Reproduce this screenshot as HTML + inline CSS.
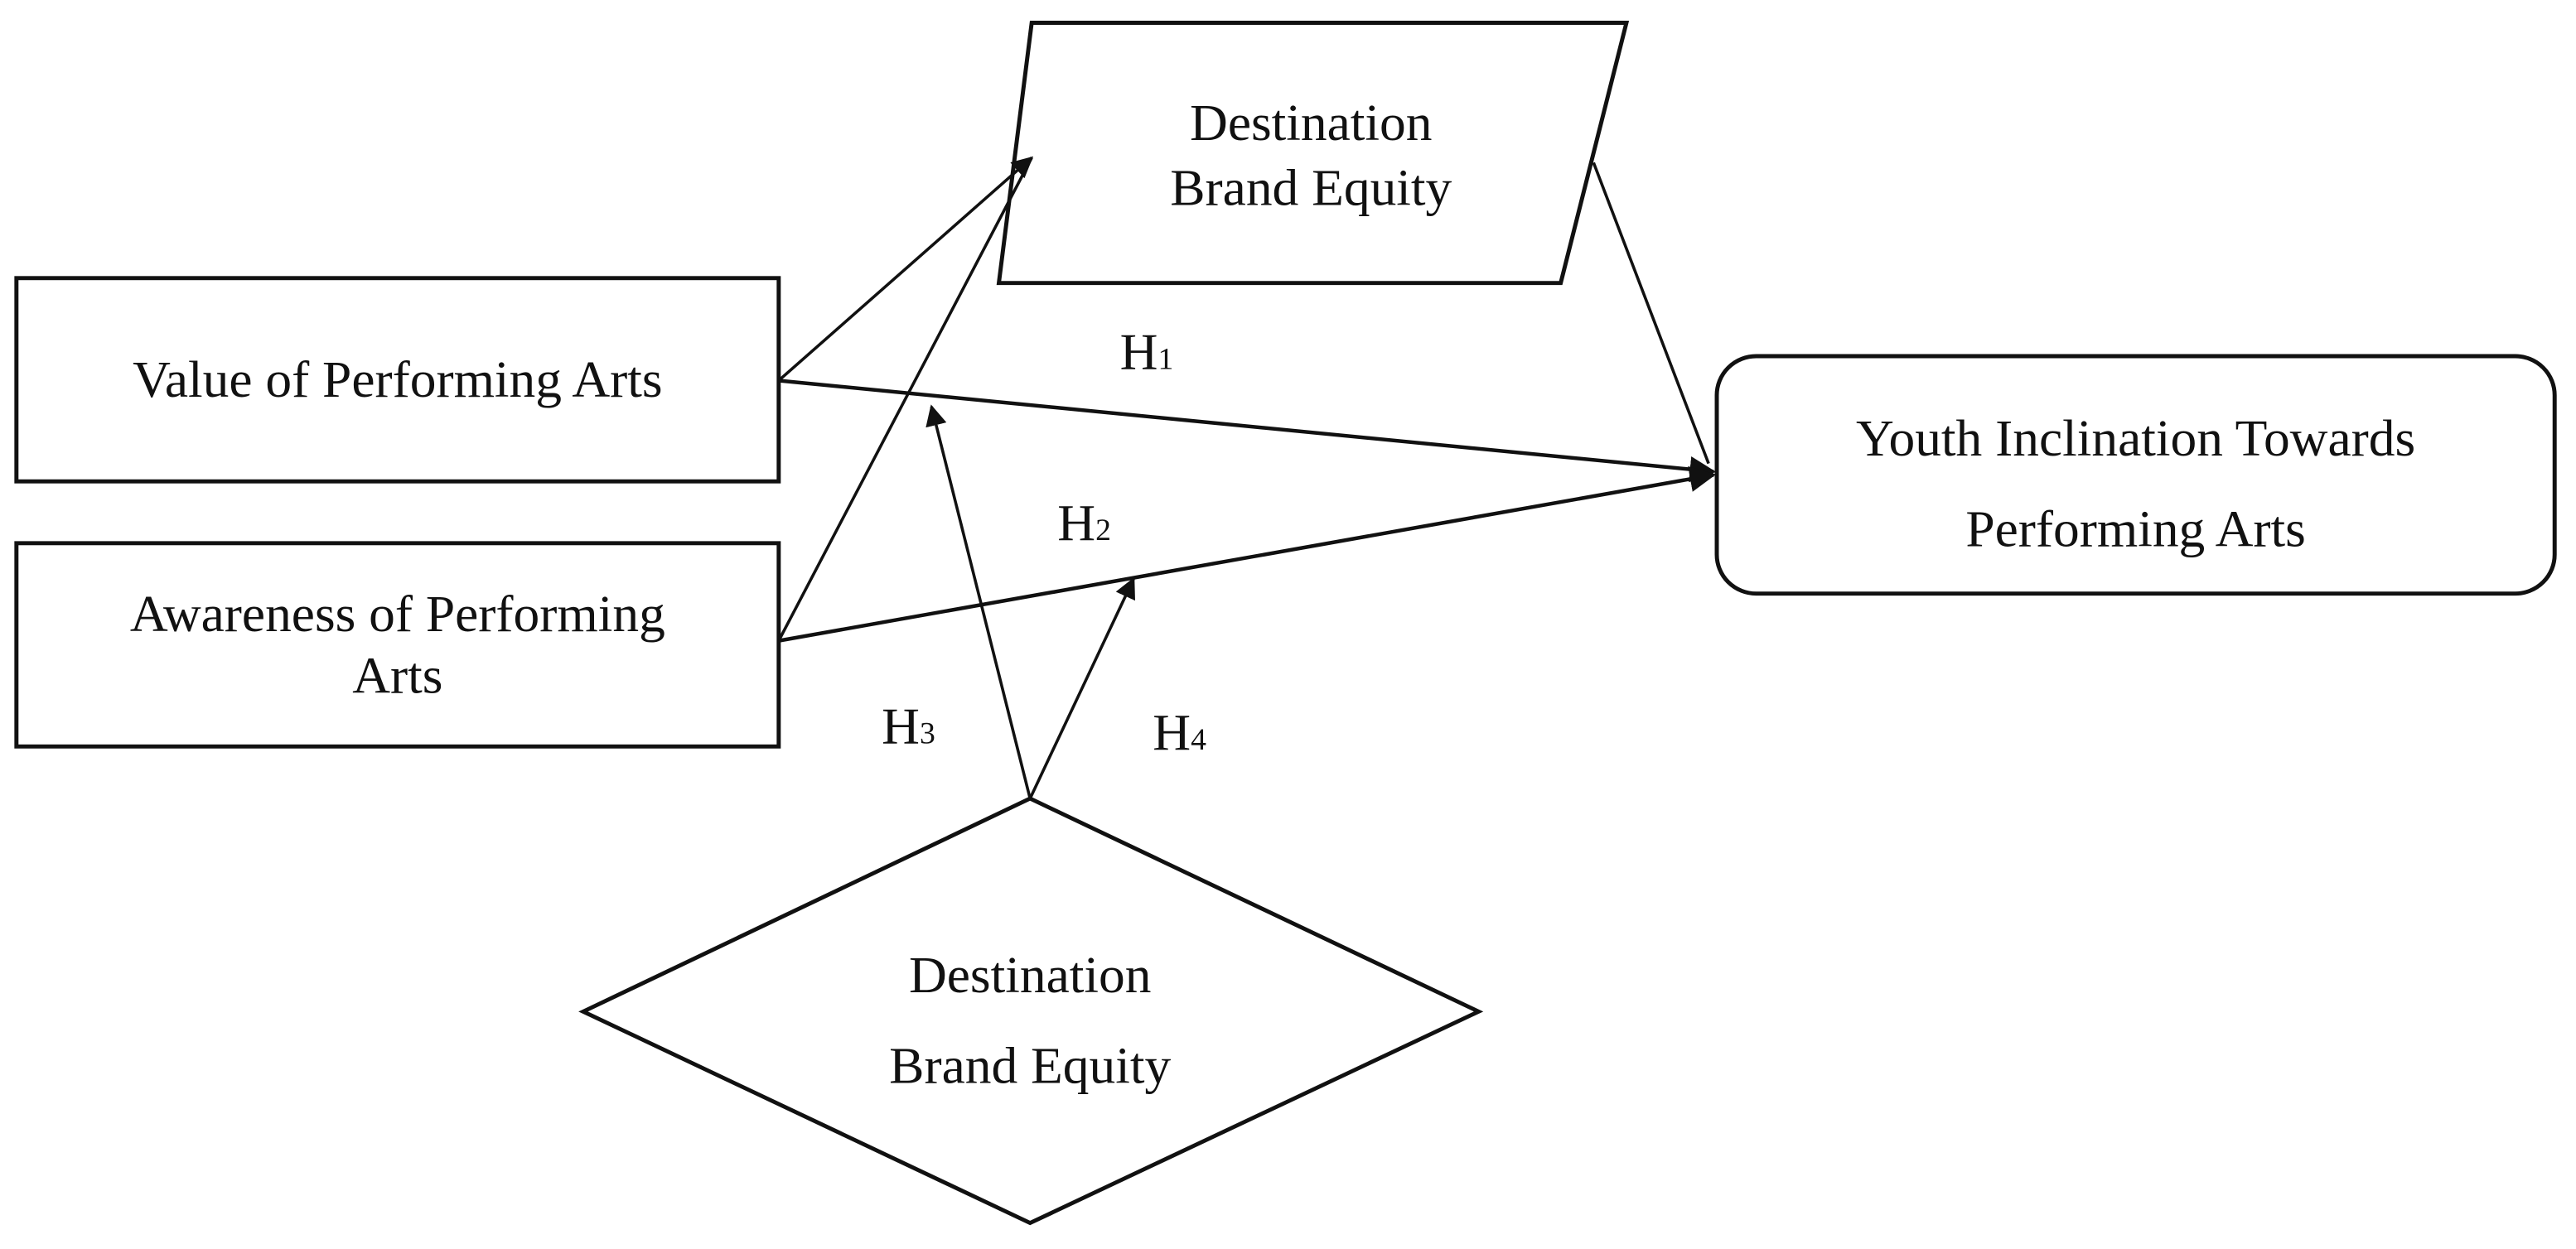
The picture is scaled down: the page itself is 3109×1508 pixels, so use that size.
<!DOCTYPE html>
<html><head><meta charset="utf-8"><style>
html,body{margin:0;padding:0;background:#fff;width:3109px;height:1508px;overflow:hidden}
svg{display:block}
text{font-family:"Liberation Serif",serif;font-size:32px;fill:#111;text-anchor:middle}
</style></head><body>
<svg width="3109" height="1508" viewBox="0 0 1568 768" preserveAspectRatio="none" xmlns="http://www.w3.org/2000/svg">
<defs>
<marker id="a" viewBox="0 0 10 10" refX="9" refY="5" markerWidth="13" markerHeight="13" markerUnits="userSpaceOnUse" orient="auto"><path d="M0,0 L10,5 L0,10 z" fill="#111"/></marker>
<marker id="b" viewBox="0 0 10 10" refX="9" refY="5" markerWidth="16" markerHeight="16" markerUnits="userSpaceOnUse" orient="auto"><path d="M0,0 L10,5 L0,10 z" fill="#111"/></marker>
</defs>
<g fill="none" stroke="#111" stroke-width="2.5">
<rect x="10" y="171" width="464" height="125"/>
<rect x="10" y="334" width="464" height="125"/>
<polygon points="628,14 990,14 950,174 608,174"/>
<rect x="1045" y="219" width="510" height="146" rx="24"/>
<polygon points="627,491 900,622 627,752 355,622"/>
</g>
<g stroke="#111" stroke-width="1.8" fill="none">
<line x1="474" y1="234" x2="628" y2="97" marker-end="url(#a)"/>
<line x1="474" y1="394" x2="628" y2="97"/>
<line x1="474" y1="234" x2="1043" y2="290" stroke-width="2.3" marker-end="url(#b)"/>
<line x1="474" y1="394" x2="1043" y2="292" stroke-width="2.3" marker-end="url(#b)"/>
<line x1="970" y1="100" x2="1040" y2="285"/>
<line x1="627" y1="491" x2="567" y2="250" marker-end="url(#a)"/>
<line x1="627" y1="491" x2="690" y2="356" marker-end="url(#a)"/>
</g>
<text x="242" y="244">Value of Performing Arts</text>
<text x="242" y="388">Awareness of Performing</text>
<text x="242" y="426">Arts</text>
<text x="798" y="86">Destination</text>
<text x="798" y="126">Brand Equity</text>
<text x="1300" y="280">Youth Inclination Towards</text>
<text x="1300" y="336">Performing Arts</text>
<text x="627" y="610">Destination</text>
<text x="627" y="666">Brand Equity</text>
<text x="698" y="227">H<tspan font-size="19">1</tspan></text>
<text x="660" y="332">H<tspan font-size="19">2</tspan></text>
<text x="553" y="457">H<tspan font-size="19">3</tspan></text>
<text x="718" y="461">H<tspan font-size="19">4</tspan></text>
</svg>
</body></html>
